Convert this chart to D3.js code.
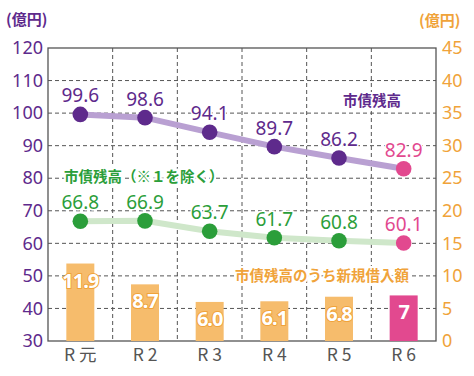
<!DOCTYPE html>
<html>
<head>
<meta charset="utf-8">
<script src="https://cdn.jsdelivr.net/npm/d3@7"></script>
<style>
  body { margin: 0; background: #fff; }
  svg { font-family: "Noto Sans", "Noto Sans CJK JP", sans-serif; }
  .jp { font-family: "Noto Sans CJK JP", sans-serif; }
</style>
</head>
<body>
<svg id="svg1" width="474" height="376"></svg>
<script>
// data
var categories = ['R 元', 'R 2', 'R 3', 'R 4', 'R 5', 'R 6'];
var totalDebt = [99.6, 98.6, 94.1, 89.7, 86.2, 82.9];      // 市債残高
var debtExcl = [66.8, 66.9, 63.7, 61.7, 60.8, 60.1];       // 市債残高（※1を除く）
var newBorrow = [11.9, 8.7, 6.0, 6.1, 6.8, 7];             // 新規借入額
var newBorrowLabels = ['11.9', '8.7', '6.0', '6.1', '6.8', '7'];
var leftTicks = [30, 40, 50, 60, 70, 80, 90, 100, 110, 120];
var rightTicks = [0, 5, 10, 15, 20, 25, 30, 35, 40, 45];

var purple = '#5e2a8c', purpleLight = '#b9a0d2';
var green = '#2b9e3a', greenLight = '#cfe7ca';
var orange = '#f0a33a', barFill = '#f6bc6c';
var pink = '#e2498f';

var plotLeft = 48, plotRight = 436, plotTop = 48, plotBottom = 341;

var svg = d3.select('#svg1');

var x = d3.scaleBand().domain(categories).range([plotLeft, plotRight]);
var yL = d3.scaleLinear().domain([30, 120]).range([plotBottom, plotTop]);
var yR = d3.scaleLinear().domain([0, 45]).range([plotBottom, plotTop]);

// grid
svg.append('g').selectAll('line')
    .data(leftTicks.slice(1, -1))
    .enter().append('line')
    .attr('x1', plotLeft).attr('x2', plotRight)
    .attr('y1', function(d){ return yL(d); })
    .attr('y2', function(d){ return yL(d); })
    .attr('stroke', '#555').attr('stroke-width', 1)
    .attr('stroke-dasharray', '4,3');

svg.append('g').selectAll('line')
    .data(categories.slice(1))
    .enter().append('line')
    .attr('x1', function(d){ return x(d); })
    .attr('x2', function(d){ return x(d); })
    .attr('y1', plotTop).attr('y2', plotBottom)
    .attr('stroke', '#555').attr('stroke-width', 1)
    .attr('stroke-dasharray', '4,3');

// frame
svg.append('rect')
    .attr('x', plotLeft).attr('y', plotTop)
    .attr('width', plotRight - plotLeft).attr('height', plotBottom - plotTop)
    .attr('fill', 'none').attr('stroke', '#555').attr('stroke-width', 1.3);

// axes
var axL = svg.append('g').attr('transform', 'translate(' + plotLeft + ',0)')
    .call(d3.axisLeft(yL).tickValues(leftTicks).tickSize(0).tickPadding(5));
axL.select('.domain').remove();
axL.selectAll('text').attr('fill', purple).attr('font-size', 18)
    .attr('font-family', '"Noto Sans", sans-serif');

var axR = svg.append('g').attr('transform', 'translate(' + plotRight + ',0)')
    .call(d3.axisRight(yR).tickValues(rightTicks).tickSize(0).tickPadding(6));
axR.select('.domain').remove();
axR.selectAll('text').attr('fill', orange).attr('font-size', 18)
    .attr('font-family', '"Noto Sans", sans-serif');

var axB = svg.append('g').attr('transform', 'translate(0,' + plotBottom + ')')
    .call(d3.axisBottom(x).tickSize(0).tickPadding(8));
axB.select('.domain').remove();
axB.selectAll('text').attr('fill', '#555').attr('font-size', 17.5)
    .attr('font-family', '"Noto Sans CJK JP", sans-serif');

// unit labels
svg.append('text').attr('class', 'jp')
    .attr('x', 6).attr('y', 25)
    .attr('fill', purple).attr('font-size', 15).attr('font-weight', 'bold')
    .text('(億円)');
svg.append('text').attr('class', 'jp')
    .attr('x', 419).attr('y', 26)
    .attr('fill', orange).attr('font-size', 15).attr('font-weight', 'bold')
    .text('(億円)');

// bars
var barW = 28;
svg.append('g').selectAll('rect')
    .data(newBorrow)
    .enter().append('rect')
    .attr('x', function(d, i){ return x(categories[i]) + x.bandwidth() / 2 - barW / 2; })
    .attr('y', function(d){ return yR(d); })
    .attr('width', barW)
    .attr('height', function(d){ return plotBottom - yR(d); })
    .attr('fill', function(d, i){ return i === 5 ? pink : barFill; });

svg.append('g').selectAll('text')
    .data(newBorrow)
    .enter().append('text')
    .attr('x', function(d, i){ return x(categories[i]) + x.bandwidth() / 2; })
    .attr('y', function(d){ return yR(d) + 24; })
    .attr('text-anchor', 'middle')
    .attr('font-size', 20).attr('font-weight', 'bold')
    .attr('letter-spacing', -1)
    .attr('fill', '#fff')
    .attr('stroke', function(d, i){ return i === 5 ? pink : orange; })
    .attr('stroke-width', 2)
    .attr('paint-order', 'stroke')
    .text(function(d, i){ return newBorrowLabels[i]; });

// lines
function drawSeries(values, yScale, lineColor, dotColor) {
    var line = d3.line()
        .x(function(d, i){ return x(categories[i]) + x.bandwidth() / 2; })
        .y(function(d){ return yScale(d); });
    svg.append('path')
        .datum(values)
        .attr('d', line)
        .attr('fill', 'none')
        .attr('stroke', lineColor)
        .attr('stroke-width', 6);
    svg.append('g').selectAll('circle')
        .data(values)
        .enter().append('circle')
        .attr('cx', function(d, i){ return x(categories[i]) + x.bandwidth() / 2; })
        .attr('cy', function(d){ return yScale(d); })
        .attr('r', 7.8)
        .attr('fill', function(d, i){ return i === 5 ? pink : dotColor; });
    svg.append('g').selectAll('text')
        .data(values)
        .enter().append('text')
        .attr('x', function(d, i){ return x(categories[i]) + x.bandwidth() / 2; })
        .attr('y', function(d){ return yScale(d) - 12; })
        .attr('text-anchor', 'middle')
        .attr('font-size', 19)
        .attr('fill', function(d, i){ return i === 5 ? pink : dotColor; })
        .attr('stroke', '#fff').attr('stroke-width', 3)
        .attr('paint-order', 'stroke')
        .text(function(d){ return d.toFixed(1); });
}

drawSeries(totalDebt, yL, purpleLight, purple);
drawSeries(debtExcl, yL, greenLight, green);

// series names
function seriesName(txt, xPos, yPos, color, size) {
    svg.append('text').attr('class', 'jp')
        .attr('x', xPos).attr('y', yPos)
        .attr('font-size', size).attr('font-weight', 'bold')
        .attr('fill', color)
        .attr('stroke', '#fff').attr('stroke-width', 4)
        .attr('paint-order', 'stroke')
        .text(txt);
}
seriesName('市債残高', 343, 106, purple, 14.5);
seriesName('市債残高（※１を除く）', 64, 182, green, 14.5);
seriesName('市債残高のうち新規借入額', 235, 281, orange, 14.5);
</script>
</body>
</html>
